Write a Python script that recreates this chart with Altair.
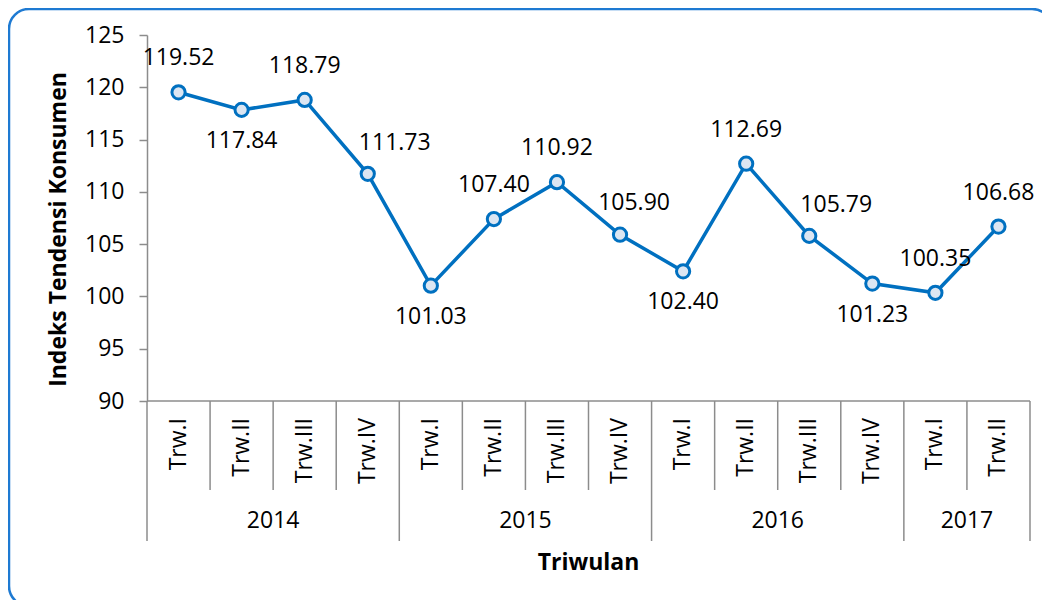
import altair as alt
import pandas as pd

quarters = ["Trw.I", "Trw.II", "Trw.III", "Trw.IV",
            "Trw.I", "Trw.II", "Trw.III", "Trw.IV",
            "Trw.I", "Trw.II", "Trw.III", "Trw.IV",
            "Trw.I", "Trw.II"]
years = ["2014"] * 4 + ["2015"] * 4 + ["2016"] * 4 + ["2017"] * 2
values = [119.52, 117.84, 118.79, 111.73, 101.03, 107.40, 110.92,
          105.90, 102.40, 112.69, 105.79, 101.23, 100.35, 106.68]
label_pos = ["above", "below", "above", "right", "below", "above", "above",
             "nudge", "below", "above", "right", "below", "above", "above"]
y_ticks = [90, 95, 100, 105, 110, 115, 120, 125]

FONT = "Open Sans"
BLUE = "#0070C0"
GRAY = "#8C8C8C"
FS = 23
W, H = 883, 366
N = len(values)

df = pd.DataFrame({
    "pos": [i + 0.5 for i in range(N)],
    "quarter": quarters,
    "year": years,
    "value": values,
    "lab": [f"{v:.2f}" for v in values],
    "lpos": label_pos,
})

year_bounds = [0] + [i for i in range(1, N) if years[i] != years[i - 1]] + [N]
quarter_bounds = [i for i in range(1, N) if i not in year_bounds]
year_names = []
year_centers = []
for a, b in zip(year_bounds[:-1], year_bounds[1:]):
    year_names.append(years[a])
    year_centers.append((a + b) / 2)

xs = alt.Scale(domain=[0, N], nice=False, zero=False)
ys = alt.Scale(domain=[90, 125], nice=False, zero=False)
X = lambda f: alt.X(f, scale=xs, axis=None)

base = alt.Chart(df)
span = alt.Chart(pd.DataFrame({"pos": [0], "pos2": [N]}))

border = span.mark_rect(fillOpacity=0, fill="white", stroke="#1E7AD2",
                        strokeWidth=2.5, cornerRadius=20,
                        xOffset=-138, x2Offset=22).encode(
    x=X("pos:Q"), x2="pos2:Q", y=alt.value(-26), y2=alt.value(571))

line = base.mark_line(color=BLUE, strokeWidth=3.5).encode(
    x=X("pos:Q"),
    y=alt.Y("value:Q", scale=ys,
            axis=alt.Axis(values=y_ticks, title="Indeks Tendensi Konsumen",
                          grid=False, domainColor=GRAY, domainWidth=1.5,
                          tickColor=GRAY, tickWidth=1.5, tickSize=8,
                          labelFont=FONT, labelFontSize=FS, labelColor="black",
                          labelPadding=15,
                          titleFont=FONT, titleFontSize=FS, titleFontWeight="bold",
                          titleColor="black", titleX=-89, titleY=194,
                          titleAngle=270, titleAlign="center",
                          titleBaseline="middle")),
)

points = base.mark_point(shape="circle", filled=True, fill="#DCE6F2",
                         stroke=BLUE, strokeWidth=3, size=175, opacity=1).encode(
    x=X("pos:Q"), y=alt.Y("value:Q", scale=ys))

def labels(pos, dx, dy):
    return base.transform_filter(alt.datum.lpos == pos).mark_text(
        font=FONT, fontSize=FS, color="black", dx=dx, dy=dy,
        baseline="middle", align="center").encode(
        x=X("pos:Q"), y=alt.Y("value:Q", scale=ys), text="lab:N")

lab_above = labels("above", 0, -34)
lab_below = labels("below", 0, 31)
lab_right = labels("right", 27, -31)
lab_nudge = labels("nudge", 14, -32)

xaxis_line = span.mark_rule(color=GRAY, strokeWidth=1.5).encode(
    x=X("pos:Q"), x2="pos2:Q", y=alt.value(H))

qsep = alt.Chart(pd.DataFrame({"pos": quarter_bounds})).mark_rule(
    color=GRAY, strokeWidth=1.5).encode(
    x=X("pos:Q"), y=alt.value(H), y2=alt.value(455))

ysep = alt.Chart(pd.DataFrame({"pos": year_bounds})).mark_rule(
    color=GRAY, strokeWidth=1.5).encode(
    x=X("pos:Q"), y=alt.value(H), y2=alt.value(506))

qlabels = base.mark_text(font=FONT, fontSize=FS, color="black", angle=270,
                         align="right", baseline="middle").encode(
    x=X("pos:Q"), y=alt.value(383), text="quarter:N")

ylabels = alt.Chart(pd.DataFrame({"pos": year_centers, "yr": year_names})).mark_text(
    font=FONT, fontSize=FS, color="black", baseline="middle", align="center").encode(
    x=X("pos:Q"), y=alt.value(486), text="yr:N")

xtitle = alt.Chart(pd.DataFrame({"pos": [N / 2], "t": ["Triwulan"]})).mark_text(
    font=FONT, fontSize=FS, fontWeight="bold", color="black",
    baseline="middle", align="center").encode(
    x=X("pos:Q"), y=alt.value(528), text="t:N")

chart = alt.layer(
    line, border, xaxis_line, qsep, ysep, points,
    lab_above, lab_below, lab_right, lab_nudge, qlabels, ylabels, xtitle,
).properties(
    width=W, height=H,
    padding={"left": 139, "top": 27, "right": 12, "bottom": 199},
    autosize="none",
).configure_view(stroke=None)

chart.save("out.html", embed_options={"renderer": "svg", "actions": False})
